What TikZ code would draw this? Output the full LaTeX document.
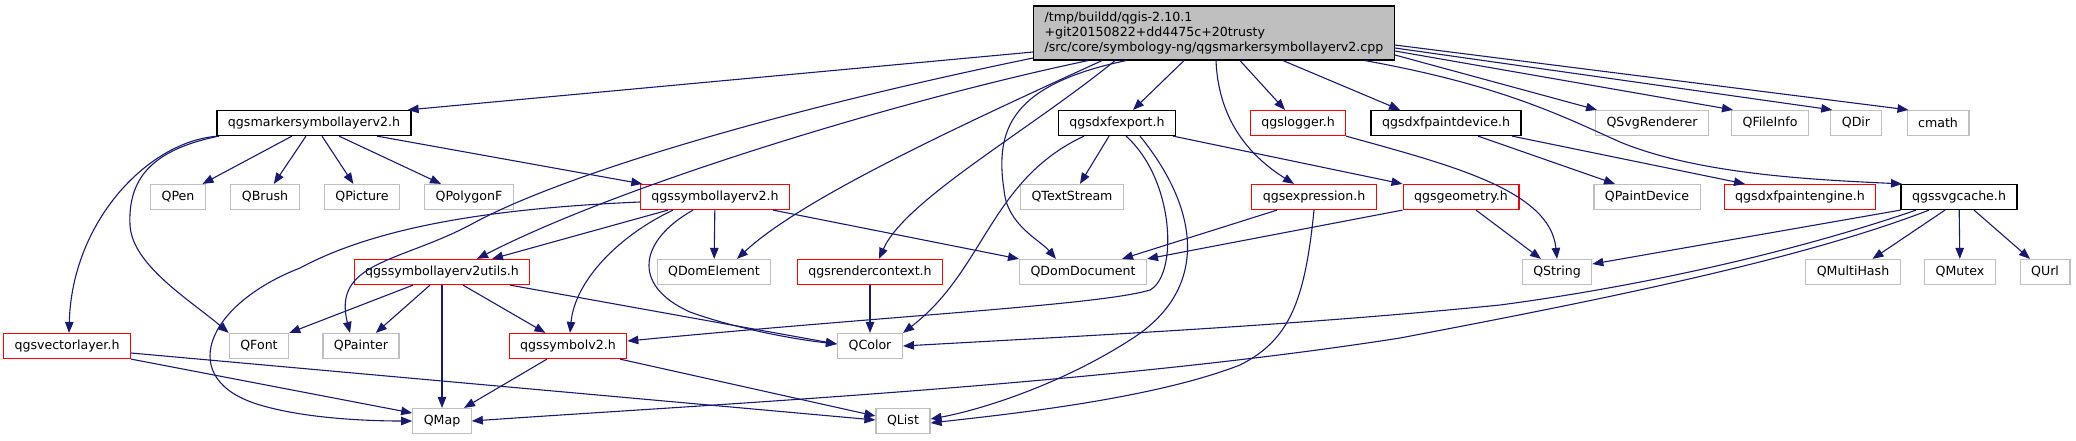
\documentclass[tikz,border=0pt]{standalone}
\usepackage{fontspec}
\setmainfont{DejaVu Sans}
\usetikzlibrary{arrows.meta}
\definecolor{depblue}{RGB}{25,25,112}
\definecolor{sysgrey}{RGB}{191,191,191}
\begin{document}
\begin{tikzpicture}[x=1pt, y=-1pt,
  hdr/.style={line width=1.2pt, minimum height=25pt, inner xsep=11pt, inner ysep=0pt, font=\fontsize{12.6}{15}\selectfont},
  known/.style={hdr, draw=black},
  trunc/.style={hdr, draw=red},
  sys/.style={hdr, draw=sysgrey},
  dep/.style={draw=depblue, line width=1.1pt, -{Triangle[length=11pt,width=8.5pt]}}]
\useasboundingbox (0,0) rectangle (2076,440);
\node[known, fill=sysgrey, align=left, minimum height=54pt] (main) at (1214,33) {/tmp/buildd/qgis-2.10.1\\+git20150822+dd4475c+20trusty\\/src/core/symbology-ng/qgsmarkersymbollayerv2.cpp};
\node[known] (marker) at (314,123) {qgsmarkersymbollayerv2.h};
\node[known] (dxfexport) at (1117,123) {qgsdxfexport.h};
\node[trunc] (logger) at (1298,123) {qgslogger.h};
\node[known] (paintdevice) at (1446,123) {qgsdxfpaintdevice.h};
\foreach \nm/\x/\txt in {svgrenderer/1652/QSvgRenderer, fileinfo/1770/QFileInfo, qdir/1856/QDir, cmath/1938/cmath}
  \node[sys] (\nm) at (\x,123) {\txt};
\foreach \nm/\x/\txt in {qpen/178/QPen, qbrush/265/QBrush, qpicture/362/QPicture, qpolygonf/469/QPolygonF, qtextstream/1072/QTextStream, qpaintdevice/1647/QPaintDevice}
  \node[sys] (\nm) at (\x,197) {\txt};
\node[trunc] (symlayer) at (715,197) {qgssymbollayerv2.h};
\node[trunc] (expression) at (1314,197) {qgsexpression.h};
\node[trunc] (geometry) at (1461,197) {qgsgeometry.h};
\node[trunc] (paintengine) at (1800,197) {qgsdxfpaintengine.h};
\node[known] (svgcache) at (1959,197) {qgssvgcache.h};
\node[trunc] (utils) at (442,272) {qgssymbollayerv2utils.h};
\node[trunc] (rendercontext) at (870,272) {qgsrendercontext.h};
\foreach \nm/\x/\txt in {domelement/714/QDomElement, domdocument/1083/QDomDocument, qstring/1557/QString, qmultihash/1853/QMultiHash, qmutex/1960/QMutex, qurl/2045/QUrl}
  \node[sys] (\nm) at (\x,272) {\txt};
\node[trunc] (vectorlayer) at (67,346) {qgsvectorlayer.h};
\node[trunc] (symbolv2) at (568,346) {qgssymbolv2.h};
\foreach \nm/\x/\txt in {qfont/259/QFont, qpainter/361/QPainter, qcolor/870/QColor}
  \node[sys] (\nm) at (\x,346) {\txt};
\node[sys] (qmap) at (442,421) {QMap};
\node[sys] (qlist) at (903,421) {QList};

\draw[dep] ([yshift=-19pt]main.west) -- ([xshift=-4pt]marker.north east);
\draw[dep] ([yshift=-25pt]main.west) .. controls (780,110) and (560,175) .. (470,225) .. controls (400,262) and (332,262) .. ([xshift=-11pt]qpainter.north);
\draw[dep] ([xshift=-126pt]main.south) .. controls (900,100) and (620,185) .. ([xshift=35pt]utils.north);
\draw[dep] ([xshift=-112pt]main.south) .. controls (950,130) and (800,200) .. ([xshift=23pt]domelement.north);
\draw[dep] ([xshift=-99pt]main.south) .. controls (1030,130) and (905,200) .. ([xshift=9pt]rendercontext.north);
\draw[dep] ([xshift=-88pt]main.south) .. controls (1010,85) and (995,130) .. (1004,190) .. controls (1007,225) and (1040,240) .. ([xshift=-27pt]domdocument.north);
\draw[dep] ([xshift=-30pt]main.south) -- ([xshift=16pt]dxfexport.north);
\draw[dep] ([xshift=2pt]main.south) .. controls (1218,110) and (1240,150) .. ([xshift=-20pt]expression.north);
\draw[dep] ([xshift=26pt]main.south) -- ([xshift=-13pt]logger.north);
\draw[dep] ([xshift=69pt]main.south) -- ([xshift=-46pt]paintdevice.north);
\draw[dep] ([yshift=-22pt]main.east) -- ([xshift=-55pt]svgrenderer.north);
\draw[dep] ([xshift=-30pt]main.south east) .. controls (1500,85) and (1560,115) .. (1620,142) .. controls (1700,175) and (1820,180) .. ([xshift=-57pt]svgcache.north);
\draw[dep] ([yshift=-18pt]main.east) -- ([xshift=2pt]fileinfo.north west);
\draw[dep] ([yshift=-15pt]main.east) -- ([xshift=2pt]qdir.north west);
\draw[dep] ([yshift=-12pt]main.east) -- ([xshift=2pt]cmath.north west);

\draw[dep] ([xshift=-22pt]marker.south) -- (qpen);
\draw[dep] ([xshift=-8pt]marker.south) -- (qbrush);
\draw[dep] ([xshift=8pt]marker.south) -- (qpicture);
\draw[dep] ([xshift=25pt]marker.south) -- (qpolygonf);
\draw[dep] ([xshift=63pt]marker.south) -- (symlayer);
\draw[dep] ([xshift=-95pt]marker.south) .. controls (150,140) and (72,220) .. ([xshift=2pt]vectorlayer.north);
\draw[dep] ([xshift=-95pt]marker.south) .. controls (150,150) and (128,180) .. (130,225) .. controls (132,265) and (190,300) .. (qfont.north west);

\draw[dep] ([xshift=-47pt]symlayer.south) -- ([xshift=50pt]utils.north);
\draw[dep] (symlayer) -- (domelement);
\draw[dep] ([xshift=58pt]symlayer.south) -- (domdocument.north west);
\draw[dep] ([xshift=-42pt]symlayer.south) .. controls (620,235) and (575,280) .. ([xshift=2pt]symbolv2.north);
\draw[dep] ([xshift=-22pt]symlayer.south) .. controls (640,240) and (630,285) .. (690,312) .. controls (740,330) and (800,340) .. ([yshift=2pt]qcolor.west);
\draw[dep] ([yshift=-5pt]symlayer.west) .. controls (500,208) and (380,225) .. (300,268) .. controls (205,305) and (175,380) .. (260,405) .. controls (310,420) and (380,421) .. (qmap.west);

\draw[dep] ([xshift=-29pt]utils.south) -- (qfont.north east);
\draw[dep] ([xshift=-12pt]utils.south) -- (qpainter);
\draw[dep] (utils) -- (qmap);
\draw[dep] ([xshift=21pt]utils.south) -- (symbolv2);
\draw[dep] ([xshift=68pt]utils.south) -- ([yshift=2pt]qcolor.west);
\draw[dep] (rendercontext) -- (qcolor);

\draw[dep] (dxfexport) -- (qtextstream);
\draw[dep] ([xshift=56pt]dxfexport.south) -- (geometry.north west);
\draw[dep] ([xshift=-33pt]dxfexport.south) .. controls (990,180) and (985,270) .. (qcolor.north east);
\draw[dep] ([xshift=9pt]dxfexport.south) .. controls (1175,180) and (1178,275) .. (1150,290) .. controls (1100,305) and (900,315) .. ([yshift=5pt]symbolv2.east);
\draw[dep] ([xshift=23pt]dxfexport.south) .. controls (1200,210) and (1210,290) .. (1130,340) .. controls (1060,385) and (980,410) .. ([yshift=2pt]qlist.east);

\draw[dep] ([xshift=-37pt]expression.south) -- ([xshift=39pt]domdocument.north);
\draw[dep] (expression.south) .. controls (1305,300) and (1290,340) .. (1240,365) .. controls (1150,400) and (1000,415) .. ([yshift=-2pt]qlist.east);
\draw[dep] (geometry.south west) -- (domdocument.north east);
\draw[dep] ([xshift=15pt]geometry.south) -- ([xshift=-16pt]qstring.north);
\draw[dep] ([xshift=48pt]logger.south) .. controls (1450,165) and (1550,190) .. (qstring.north);
\draw[dep] ([xshift=32pt]paintdevice.south) -- ([xshift=-32pt]qpaintdevice.north);
\draw[dep] ([xshift=66pt]paintdevice.south) -- ([xshift=-55pt]paintengine.north);

\draw[dep] (svgcache.south west) -- ([yshift=8pt]qstring.east);
\draw[dep] ([xshift=-43pt]svgcache.south) .. controls (1800,250) and (1650,285) .. (1500,305) .. controls (1300,325) and (1100,335) .. (qcolor.east);
\draw[dep] ([xshift=-30pt]svgcache.south) .. controls (1800,260) and (1600,300) .. (1400,338) .. controls (1100,385) and (700,405) .. (qmap.east);
\draw[dep] ([xshift=-14pt]svgcache.south) -- (qmultihash);
\draw[dep] (svgcache) -- (qmutex);
\draw[dep] ([xshift=15pt]svgcache.south) -- (qurl);

\draw[dep] (vectorlayer.south east) -- ([yshift=8pt]qmap.west);
\draw[dep] ([yshift=-7pt]vectorlayer.east) -- ([yshift=1pt]qlist.west);
\draw[dep] ([xshift=-21pt]symbolv2.south) -- ([xshift=22pt]qmap.north);
\draw[dep] ([xshift=52pt]symbolv2.south) -- ([yshift=5pt]qlist.west);
\end{tikzpicture}
\end{document}
